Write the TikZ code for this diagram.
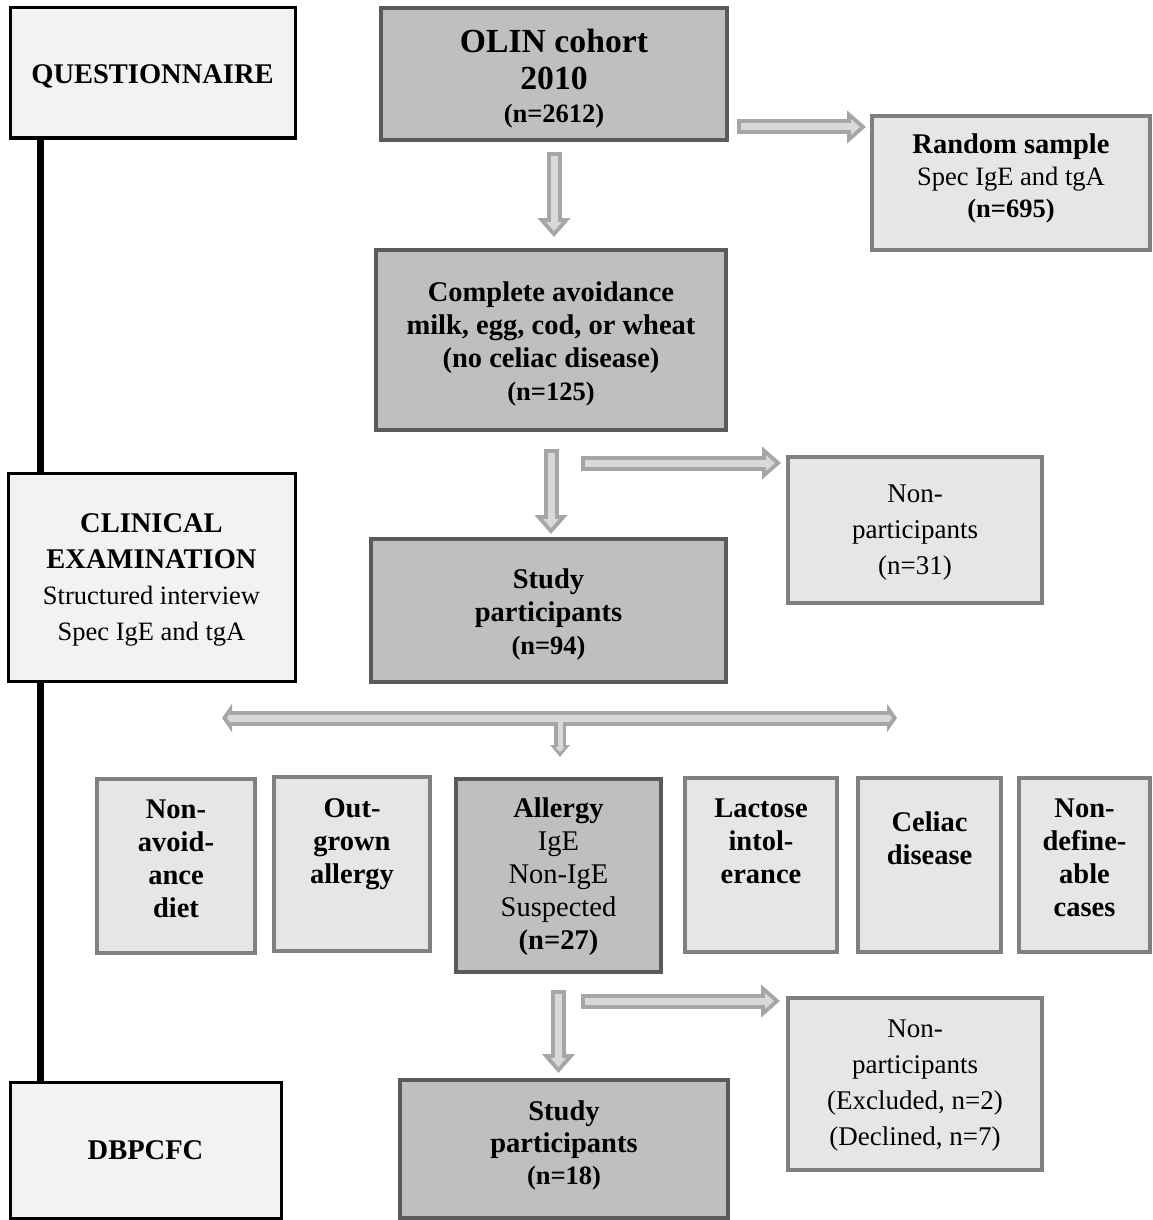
\documentclass[tikz,border=0pt]{standalone}
\usepackage{fontspec}
\setmainfont{Liberation Serif}
\usetikzlibrary{arrows.meta,calc}

\definecolor{leftfill}{HTML}{F2F2F2}
\definecolor{mainfill}{HTML}{BFBFBF}
\definecolor{mainedge}{HTML}{5A5A5A}
\definecolor{sidefill}{HTML}{E6E6E6}
\definecolor{sideedge}{HTML}{808080}
\definecolor{arrowedge}{HTML}{A6A6A6}
\definecolor{arrowfill}{HTML}{D9D9D9}

% text block hanging from the top of a box: [first baseline]{height}{width}{text}
\newcommand{\toptext}[4][39]{\parbox[c][#2pt][t]{#3pt}{\centering\rule{0pt}{#1pt}#4}}
% first line strut, pushes a centred text block down a little
\newcommand{\fl}[1][28]{\rule{0pt}{#1pt}}
% smaller (n=...) line
\newcommand{\cnt}[1]{{\fontsize{26.5}{33}\selectfont #1}}
% grey block arrow: {from}{to}{shorten start}{shorten end}
\newcommand{\blockarrow}[4]{%
    \draw[arrowout, shorten <=#3pt, shorten >=#4pt] (#1) -- (#2);
    \pgfmathsetmacro\shA{#3+4}\pgfmathsetmacro\shB{#4+6}
    \draw[arrowin, shorten <=\shA pt, shorten >=\shB pt] (#1) -- (#2);}

\begin{document}
\begin{tikzpicture}[x=1pt, y=-1pt]
    \tikzset{
        leftbox/.style={draw=black, line width=3pt, fill=leftfill, align=center,
            font=\fontsize{26.5}{36}\selectfont},
        mainbox/.style={draw=mainedge, line width=4pt, fill=mainfill, align=center,
            font=\fontsize{28.5}{33}\selectfont\bfseries},
        sidebox/.style={draw=sideedge, line width=4pt, fill=sidefill, align=center,
            font=\fontsize{27}{36}\selectfont},
        rowbox/.style={sidebox, inner sep=0pt, font=\fontsize{28.5}{33}\selectfont\bfseries},
        arrowout/.style={line width=15pt, draw=arrowedge,
            -{Triangle[width=32pt,length=19pt]}},
        arrowin/.style={line width=7pt, draw=arrowfill,
            -{Triangle[width=15pt,length=9pt]}},
        spine/.style={line width=7pt, draw=black},
    }
    \useasboundingbox (0,0) rectangle (1152,1220);

    % study stages on the left
    \node[leftbox, minimum width=285pt, minimum height=130pt] (q) at (152.5,73)
        {\fl[25]\textbf{\fontsize{28.5}{36}\selectfont QUESTIONNAIRE}};
    \node[leftbox, minimum width=287pt, minimum height=208pt] (ce) at (151.5,577)
        {\fl[24]\textbf{\fontsize{28.5}{36}\selectfont CLINICAL}\\
        \textbf{\fontsize{28.5}{36}\selectfont EXAMINATION}\\Structured interview\\Spec IgE and tgA};
    \node[leftbox, minimum width=271pt, minimum height=136pt] (db) at (145.5,1150)
        {\textbf{\fontsize{28.5}{36}\selectfont DBPCFC}};
    \coordinate (spx) at (40,0);
    \draw[spine] (q.south -| spx) -- (ce.north -| spx);
    \draw[spine] (ce.south -| spx) -- (db.north -| spx);

    % main flow
    \node[mainbox, minimum width=346pt, minimum height=132pt,
        font=\fontsize{33.7}{37}\selectfont\bfseries] (olin) at (554,74)
        {\fl[32]OLIN cohort\\2010\\[-4pt]{\fontsize{26.5}{31}\selectfont (n=2612)}};
    \node[sidebox, minimum width=278pt, minimum height=134pt,
        font=\fontsize{26.5}{32}\selectfont] (rnd) at (1011,183)
        {\textbf{\fontsize{28.5}{32}\selectfont Random sample}\\Spec IgE and tgA\\
        \textbf{(n=695)}\rule[-15pt]{0pt}{0pt}};
    \node[mainbox, minimum width=350pt, minimum height=180pt] (comp) at (551,340)
        {\fl Complete avoidance\\milk, egg, cod, or wheat\\(no celiac disease)\\\cnt{(n=125)}};
    \node[sidebox, minimum width=254pt, minimum height=146pt] (np1) at (915,530)
        {\fl[22]Non-\\participants\\(n=31)};
    \node[mainbox, minimum width=355pt, minimum height=143pt] (st1) at (548.5,610.5)
        {\fl Study\\participants\\\cnt{(n=94)}};

    % outcome row
    \node[rowbox] (nad) at (176,866) {\toptext{174}{158}{Non-\\avoid-\\ance\\diet}};
    \node[rowbox] (og) at (352,864) {\toptext[40]{174}{156}{Out-\\grown\\allergy}};
    \node[mainbox, inner sep=0pt] (all) at (558.5,875.5)
        {\toptext[38]{193}{205}{Allergy\\\mdseries IgE\\Non-IgE\\Suspected\\\bfseries (n=27)}};
    \node[rowbox] (lac) at (761,865) {\toptext{174}{152}{Lactose\\intol-\\erance}};
    \node[rowbox] (cel) at (929.5,865) {\toptext[53]{174}{143}{Celiac\\disease}};
    \node[rowbox] (nd) at (1084.5,865) {\toptext{174}{131}{Non-\\define-\\able\\cases}};

    \node[sidebox, minimum width=254pt, minimum height=172pt] (np2) at (915,1084)
        {\fl[20]Non-\\participants\\(Excluded, n=2)\\(Declined, n=7)};
    \node[mainbox, minimum width=328pt, minimum height=138pt,
        font=\fontsize{28.5}{32}\selectfont\bfseries] (st2) at (564,1149)
        {Study\\participants\\{\fontsize{26.5}{31}\selectfont (n=18)}\rule[-12pt]{0pt}{0pt}};

    % block arrows
    \blockarrow{olin.south}{olin.south |- comp.north}{10}{11}
    \coordinate (o2r) at ($(olin.east)+(0,53)$);
    \blockarrow{o2r}{o2r -| rnd.west}{8}{4}
    \blockarrow{comp.south}{comp.south |- st1.north}{17}{3}
    \coordinate (c2n) at ($(comp.south)+(30,31)$);
    \blockarrow{c2n}{c2n -| np1.west}{0}{5}
    \blockarrow{all.south}{all.south |- st2.north}{16}{5}
    \coordinate (a2n) at ($(all.south)+(22,27)$);
    \blockarrow{a2n}{a2n -| np2.west}{0}{6}

    % split arrow above the outcome row
    \coordinate (hl) at (222,718);
    \coordinate (hr) at (897,718);
    \coordinate (hm) at (560,718);
    \coordinate (hd) at (560,757);
    \draw[line width=15pt, draw=arrowedge,
        {Triangle[width=28pt,length=10pt]}-{Triangle[width=28pt,length=10pt]}] (hl) -- (hr);
    \draw[line width=12pt, draw=arrowedge, -{Triangle[width=19pt,length=12pt]}] (hm) -- (hd);
    \draw[line width=7pt, draw=arrowfill, shorten <=5pt, shorten >=5pt,
        {Triangle[width=8pt,length=3pt]}-{Triangle[width=8pt,length=3pt]}] (hl) -- (hr);
    \draw[line width=5pt, draw=arrowfill, shorten >=5pt,
        -{Triangle[width=9pt,length=5pt]}] (hm) -- (hd);
\end{tikzpicture}
\end{document}
